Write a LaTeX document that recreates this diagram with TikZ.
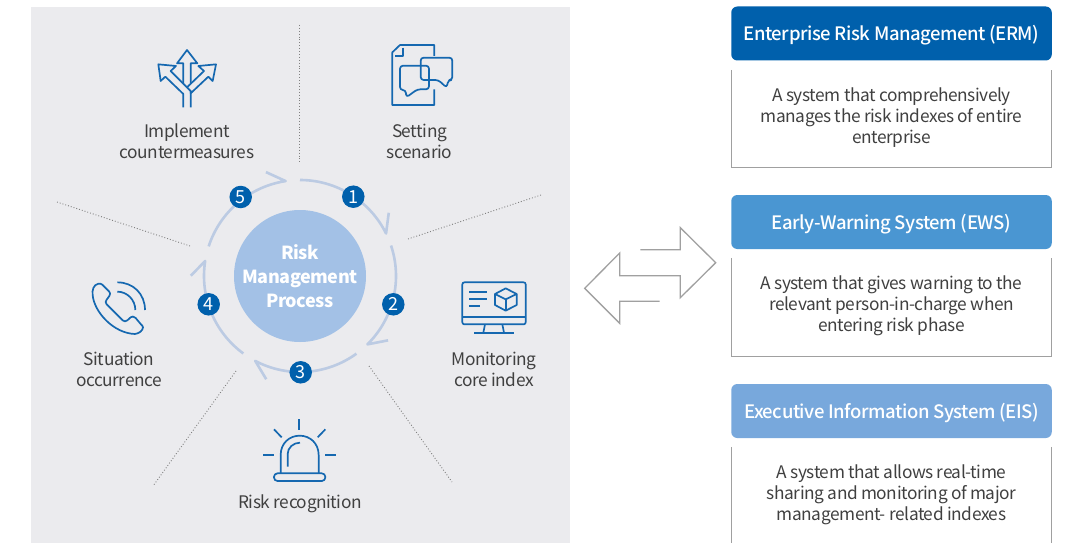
\documentclass[tikz,border=0pt]{standalone}
\usepackage{fontspec}
\setmainfont[LetterSpace=-2.5]{Noto Sans CJK KR}
\newfontfamily\headfont[LetterSpace=-2.5]{Noto Sans CJK KR Medium}
\definecolor{panelgray}{HTML}{EBEBEE}
\definecolor{ringblue}{HTML}{BCCBE3}
\definecolor{hubblue}{HTML}{A3C1E6}
\definecolor{badgeblue}{HTML}{0060AC}
\definecolor{iconblue}{HTML}{1568B0}
\definecolor{ewsblue}{HTML}{4A96D2}
\definecolor{eisblue}{HTML}{78A8DC}
\definecolor{textgray}{HTML}{404040}
\definecolor{linegray}{HTML}{A0A0A0}

\begin{document}
\begin{tikzpicture}[x = 1pt, y = -1pt]
	\tikzstyle{ringStyle}=[draw = ringblue, line width = 2.6pt, line join = round]
	\tikzstyle{hubStyle}=[shape = circle, minimum size = 132pt, inner sep = 0pt, fill = hubblue]
	\tikzstyle{hubText}=[inner sep = 0pt, text = white, align = center, font = \fontsize{18}{24}\selectfont\bfseries]
	\tikzstyle{badgeStyle}=[shape = circle, minimum size = 22.5pt, inner sep = 0pt, fill = badgeblue, text = white, font = \fontsize{18}{18}\selectfont]
	\tikzstyle{labelStyle}=[inner sep = 0pt, text = textgray, align = center, font = \fontsize{17.3}{21}\selectfont]
	\tikzstyle{headStyle}=[shape = rectangle, rounded corners = 6pt, minimum width = 320.5pt, minimum height = 54pt, inner sep = 0pt, text height = 17pt, text depth = 3pt, text = white, font = \fontsize{18.5}{22}\selectfont\headfont]
	\tikzstyle{frameStyle}=[shape = rectangle, minimum width = 320.5pt, inner sep = 0pt]
	\tikzstyle{bodyStyle}=[inner sep = 0pt, text = textgray, align = center, font = \fontsize{17.3}{21.2}\selectfont]
	\tikzstyle{bodyLine}=[draw = linegray, line width = 1pt]
	\tikzstyle{dotLine}=[draw = gray, line width = 0.9pt, dotted]
	\tikzstyle{iconStyle}=[draw = iconblue, line width = 1.7pt, line join = round]
	\useasboundingbox (0,0) rectangle (1065,543);
	\fill[panelgray] (31,7) rectangle (570,543);
	% spokes
	\coordinate (s0a) at (299,25);
	\coordinate (s0b) at (299,163);
	\coordinate (s1a) at (541,195);
	\coordinate (s1b) at (408,239);
	\coordinate (s2a) at (369,366);
	\coordinate (s2b) at (452,482);
	\coordinate (s3a) at (236,371);
	\coordinate (s3b) at (153,486);
	\coordinate (s4a) at (57,202);
	\coordinate (s4b) at (190,246);
	\draw[dotLine] (s0a) -- (s0b);
	\draw[dotLine] (s1a) -- (s1b);
	\draw[dotLine] (s2a) -- (s2b);
	\draw[dotLine] (s3a) -- (s3b);
	\draw[dotLine] (s4a) -- (s4b);
	% ring
	\node[hubStyle] (hub) at (300,276) {};
	\node[hubText] (hubtext) at (hub) {Risk\\Management\\Process};
	\draw[ringStyle] (hub) ++(90:96pt) arc[start angle = 90, end angle = 26.3, radius = 96pt] -- ++(2.7,-20.7);
	\draw[ringStyle] (hub) ++(18.5:96pt) arc[start angle = 18.5, end angle = -45.4, radius = 96pt] -- ++(20.7,-4);
	\draw[ringStyle] (hub) ++(-54:96pt) arc[start angle = -54, end angle = -117.8, radius = 96pt] -- ++(11,18.3);
	\draw[ringStyle] (hub) ++(-126.2:96pt) arc[start angle = -126.2, end angle = -189, radius = 96pt] -- ++(-14.3,14.7);
	\draw[ringStyle] (hub) ++(162:96pt) arc[start angle = 162, end angle = 98.6, radius = 96pt] -- ++(-19.7,-9);
	\node[badgeStyle] (b1) at (353.3,196.7) {1};
	\node[badgeStyle] (b2) at (393.3,304.3) {2};
	\node[badgeStyle] (b3) at (300.7,372.3) {3};
	\node[badgeStyle] (b4) at (208.7,304.3) {4};
	\node[badgeStyle] (b5) at (240.7,197) {5};
	% labels
	\node[labelStyle] (l5) at (187,141.5) {Implement\\countermeasures};
	\node[labelStyle] (l1) at (419.5,141.5) {Setting\\scenario};
	\node[labelStyle] (l2) at (494,369.5) {Monitoring\\core index};
	\node[labelStyle] (l3) at (300,504) {Risk recognition};
	\node[labelStyle] (l4) at (119,369.5) {Situation\\occurrence};
	% icons
	\begin{scope}[shift = {(130,20)}, scale = 1/3]
		\draw[iconStyle] (160,262) -- (160,222) -- (106,170) -- (92,183) -- (85,133) -- (138,138) -- (122,153) -- (182,213) -- (182,262);
		\draw[iconStyle] (182,213) -- (182,220) -- (235,170) -- (248,183) -- (258,133) -- (205,138) -- (222,153) -- (172,201);
		\draw[iconStyle] (160,190) -- (160,130) -- (141,130) -- (171,90) -- (202,130) -- (182,130) -- (182,190);
		\draw[iconStyle] (913,108) -- (913,75) -- (810,75) -- (787,97) -- (787,255) -- (913,255) -- (913,208);
		\draw[iconStyle] (818,83) -- (818,107) -- (795,107);
		\draw[iconStyle, rounded corners = 3pt] (872,137) -- (810,137) -- (810,210) -- (827,210) -- (829,232) -- (862,208) -- (897,208) -- (897,137) -- cycle;
		\draw[iconStyle, rounded corners = 3pt] (872,113) -- (967,113) -- (967,180) -- (955,180) -- (950,203) -- (925,180) -- (872,180) -- cycle;
	\end{scope}
	\begin{scope}[shift = {(440,270)}, scale = 1/3]
		\draw[iconStyle, rounded corners = 2pt] (67,37) rectangle (257,163);
		\draw[iconStyle] (67,141) -- (257,141);
		\draw[iconStyle] (135,163) -- (130,188);
		\draw[iconStyle] (187,163) -- (192,188);
		\draw[iconStyle] (102,188) -- (222,188);
		\draw[iconStyle] (87,65) -- (141,65);
		\draw[iconStyle] (87,87) -- (141,87);
		\draw[iconStyle] (87,109) -- (120,109);
		\draw[iconStyle] (197,55) -- (230,72) -- (230,105) -- (197,122) -- (165,105) -- (165,72) -- cycle;
		\draw[iconStyle] (165,72) -- (197,88) -- (230,72);
		\draw[iconStyle] (197,88) -- (197,122);
	\end{scope}
	\begin{scope}[shift = {(250,410)}, scale = 1/3]
		\draw[iconStyle, rounded corners = 3.5pt] (72,190) rectangle (226,213);
		\draw[iconStyle] (92,190) -- (92,135) .. controls (92,100) and (118,77) .. (149,77) .. controls (180,77) and (206,100) .. (206,135) -- (206,190);
		\draw[iconStyle] (113,170) -- (113,132) .. controls (113,113) and (130,98) .. (150,98);
		\draw[iconStyle] (148,27) -- (148,60);
		\draw[iconStyle] (72,58) -- (95,82);
		\draw[iconStyle] (226,58) -- (203,82);
		\draw[iconStyle] (40,135) -- (72,135);
		\draw[iconStyle] (226,135) -- (258,135);
	\end{scope}
	\begin{scope}[shift = {(70,270)}, scale = 1/3]
		\draw[iconStyle] (85,41) .. controls (70,45) and (66,60) .. (68,75) .. controls (72,125) and (130,190) .. (195,192) .. controls (208,190) and (218,182) .. (219,172) .. controls (219,168) and (215,165) .. (212,162) -- (197,144) .. controls (192,139) and (186,138) .. (182,142) -- (172,151) .. controls (168,155) and (162,155) .. (158,151) -- (110,103) .. controls (106,99) and (106,93) .. (110,89) -- (118,78) .. controls (122,73) and (121,68) .. (117,64) -- (97,44) .. controls (93,41) and (89,40) .. (85,41) -- cycle;
		\draw[iconStyle] (142,37) .. controls (190,37) and (225,72) .. (225,120);
		\draw[iconStyle] (142,65) .. controls (172,65) and (196,90) .. (196,120);
	\end{scope}
	% double arrow
	\draw[draw = linegray, line width = 1.3pt] (640.3,249.7) -- (680.3,249.7) -- (680.3,227.7) -- (715.7,262.7) -- (680.3,297.7) -- (680.3,275.7) -- (619.7,275.7) -- (619.7,253) -- (584.7,288.3) -- (619.7,323.3) -- (619.7,301.3) -- (659.7,301.3);
	% right column
	\node[headStyle, fill = badgeblue] (erm) at (891.5,33.5) {Enterprise Risk Management (ERM)};
	\node[headStyle, fill = ewsblue] (ews) at (891.5,222) {Early-Warning System (EWS)};
	\node[headStyle, fill = eisblue] (eis) at (891.5,411) {Executive Information System (EIS)};
	\node[frameStyle, minimum height = 97pt] (ermframe) at (891.5,118.5) {};
	\node[frameStyle, minimum height = 98pt] (ewsframe) at (891.5,307) {};
	\node[frameStyle, minimum height = 96pt] (eisframe) at (891.5,495) {};
	\node[bodyStyle] (ermtext) at (891.5,117.5) {A system that comprehensively\\manages the risk indexes of entire\\enterprise};
	\node[bodyStyle] (ewstext) at (891.5,306) {A system that gives warning to the\\relevant person-in-charge when\\entering risk phase};
	\node[bodyStyle] (eistext) at (891.5,494.7) {A system that allows real-time\\sharing and monitoring of major\\management- related indexes};
	\draw[bodyLine] (ermframe.north west) -- (ermframe.south west) -- (ermframe.south east) -- (ermframe.north east);
	\draw[bodyLine] (ewsframe.north west) -- (ewsframe.south west) -- (ewsframe.south east) -- (ewsframe.north east);
	\draw[bodyLine] (eisframe.north west) -- (eisframe.south west);
	\draw[bodyLine] (eisframe.north east) -- (eisframe.south east);
\end{tikzpicture}
\end{document}
